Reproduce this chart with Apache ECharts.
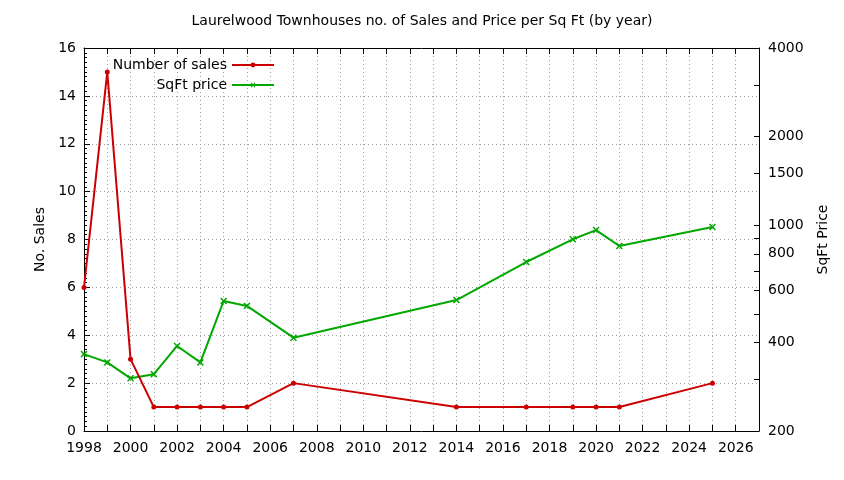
<!DOCTYPE html>
<html>
<head>
<meta charset="utf-8">
<title>Laurelwood Townhouses</title>
<script src="https://cdn.jsdelivr.net/npm/echarts@6/dist/echarts.min.js"></script>
<style>
  html, body { margin: 0; padding: 0; background: #fff; }
  #chart { width: 844px; height: 480px; }
</style>
</head>
<body>
<div id="chart"></div>
<script>
// valores
var years = [1998, 1999, 2000, 2001, 2002, 2003, 2004, 2005, 2007, 2014, 2017, 2019, 2020, 2021, 2025];
var numSales = [6, 15, 3, 1, 1, 1, 1, 1, 2, 1, 1, 1, 1, 1, 2];
var sqftPrice = [365, 342, 302, 312, 389, 342, 553, 532, 415, 557, 750, 896, 963, 850, 986];

var priceLabels = [200, 400, 600, 800, 1000, 1500, 2000, 4000];
var priceTicks = [200, 300, 400, 500, 600, 700, 800, 900, 1000, 1500, 2000, 3000, 4000];

var FONT = "DejaVu Sans";
var FS = 14;
var RED = "#cc0000";
var GREEN = "#00a800";
var CROSS = "path://M0,1.5L1.5,0L5,3.5L8.5,0L10,1.5L6.5,5L10,8.5L8.5,10L5,6.5L1.5,10L0,8.5L3.5,5Z";

function zip(xs, ys) {
  var out = [];
  for (var i = 0; i < xs.length; i++) {
    out.push([xs[i], ys[i]]);
  }
  return out;
}

var myChart = echarts.init(document.getElementById("chart"), null, { renderer: "canvas" });

var axisLine = { show: true, lineStyle: { color: "#000", width: 1 } };
var gridLine = { show: true, lineStyle: { color: "#a0a0a0", width: 1, type: [1, 3] } };

var option = {
  animation: false,
  backgroundColor: "#fff",
  textStyle: { fontFamily: FONT },
  title: {
    text: "Laurelwood Townhouses no. of Sales and Price per Sq Ft (by year)",
    left: "center",
    top: 9,
    textStyle: { fontFamily: FONT, fontSize: FS, fontWeight: "normal", color: "#000" }
  },
  legend: [
    {
      data: ["Number of sales"],
      right: 569,
      top: 58,
      padding: 0,
      align: "right",
      itemWidth: 42,
      itemHeight: 6,
      textStyle: { fontFamily: FONT, fontSize: FS, color: "#000" }
    },
    {
      data: ["SqFt price"],
      right: 569,
      top: 78,
      padding: 0,
      align: "right",
      itemWidth: 42,
      itemHeight: 6,
      textStyle: { fontFamily: FONT, fontSize: FS, color: "#000" }
    }
  ],
  grid: { left: 84, right: 85, top: 48, bottom: 49 },
  xAxis: [
    {
      type: "value",
      min: 1998,
      max: 2027,
      interval: 1,
      axisLine: axisLine,
      axisTick: { show: true, inside: true, length: 6, lineStyle: { color: "#000" } },
      axisLabel: {
        margin: 10,
        fontFamily: FONT,
        fontSize: FS,
        color: "#000",
        formatter: function (v) { return v % 2 === 0 ? String(v) : ""; }
      },
      splitLine: gridLine
    },
    {
      type: "value",
      position: "top",
      min: 1998,
      max: 2027,
      interval: 1,
      axisLine: axisLine,
      axisTick: { show: true, inside: true, length: 6, lineStyle: { color: "#000" } },
      axisLabel: { show: false },
      splitLine: { show: false }
    }
  ],
  yAxis: [
    {
      type: "value",
      min: 0,
      max: 16,
      interval: 2,
      name: "No. Sales",
      nameLocation: "middle",
      nameGap: 35,
      nameRotate: 90,
      nameTextStyle: { fontFamily: FONT, fontSize: FS, color: "#000" },
      axisLine: axisLine,
      axisTick: { show: true, inside: true, length: 6, lineStyle: { color: "#000" } },
      minorTick: { show: true, splitNumber: 10, length: 3, lineStyle: { color: "#000" } },
      axisLabel: { margin: 8, fontFamily: FONT, fontSize: FS, color: "#000" },
      splitLine: gridLine
    },
    {
      type: "log",
      logBase: 10,
      min: 200,
      max: 4000,
      position: "right",
      name: "SqFt Price",
      nameLocation: "middle",
      nameGap: 57,
      nameRotate: 90,
      nameTextStyle: { fontFamily: FONT, fontSize: FS, color: "#000" },
      axisLine: axisLine,
      axisTick: { show: true, inside: true, length: 5, customValues: priceTicks, lineStyle: { color: "#000" } },
      axisLabel: {
        margin: 9,
        fontFamily: FONT,
        fontSize: FS,
        color: "#000",
        customValues: priceLabels,
        formatter: function (v) { return String(Math.round(v)); }
      },
      splitLine: { show: false }
    }
  ],
  series: [
    {
      name: "Number of sales",
      type: "line",
      xAxisIndex: 0,
      yAxisIndex: 0,
      data: zip(years, numSales),
      symbol: "circle",
      symbolSize: 5,
      lineStyle: { color: RED, width: 2 },
      itemStyle: { color: RED },
      z: 3
    },
    {
      name: "SqFt price",
      type: "line",
      xAxisIndex: 0,
      yAxisIndex: 1,
      data: zip(years, sqftPrice),
      symbol: CROSS,
      symbolSize: 7,
      lineStyle: { color: GREEN, width: 2 },
      itemStyle: { color: GREEN },
      z: 2
    }
  ]
};

myChart.setOption(option);
</script>
</body>
</html>
